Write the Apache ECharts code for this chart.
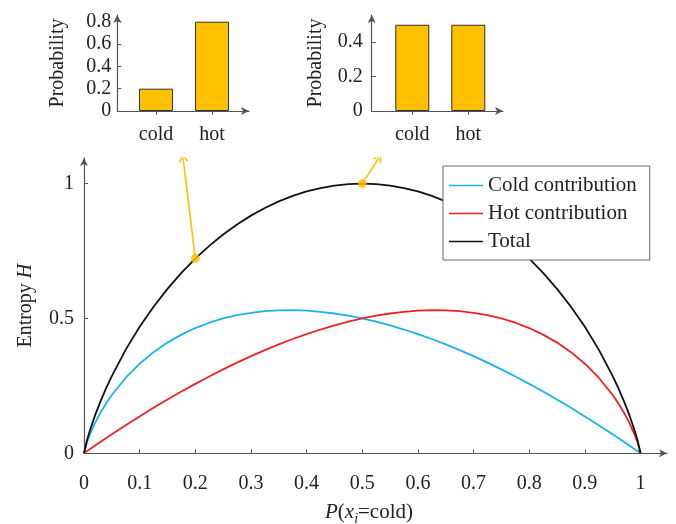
<!DOCTYPE html>
<html>
<head>
<meta charset="utf-8">
<script src="https://cdn.jsdelivr.net/npm/echarts@6/dist/echarts.min.js"></script>
<style>html,body{margin:0;padding:0;background:#fff}#c{width:676px;height:524px}</style>
</head>
<body>
<div id="c"></div>
<script>
// ---- data ----
var pValues = [0, 0.005, 0.01, 0.02, 0.03, 0.04, 0.05, 0.075, 0.1, 0.125, 0.15, 0.175, 0.2, 0.225, 0.25, 0.275, 0.3, 0.325, 0.35, 0.375, 0.4, 0.425, 0.45, 0.475, 0.5, 0.525, 0.55, 0.575, 0.6, 0.625, 0.65, 0.675, 0.7, 0.725, 0.75, 0.775, 0.8, 0.825, 0.85, 0.875, 0.9, 0.925, 0.95, 0.96, 0.97, 0.98, 0.99, 0.995, 1];
var coldContribution = [0, 0.0382, 0.0664, 0.1129, 0.1518, 0.1858, 0.2161, 0.2803, 0.3322, 0.375, 0.4105, 0.4401, 0.4644, 0.4842, 0.5, 0.5122, 0.5211, 0.5270, 0.5301, 0.5306, 0.5288, 0.5247, 0.5184, 0.5101, 0.5, 0.4881, 0.4744, 0.4590, 0.4422, 0.4238, 0.4040, 0.3827, 0.3602, 0.3364, 0.3113, 0.2850, 0.2575, 0.2290, 0.1993, 0.1686, 0.1368, 0.1041, 0.0703, 0.0565, 0.0426, 0.0286, 0.0144, 0.0072, 0];
var hotContribution = [0, 0.0072, 0.0144, 0.0286, 0.0426, 0.0565, 0.0703, 0.1041, 0.1368, 0.1686, 0.1993, 0.2290, 0.2575, 0.2850, 0.3113, 0.3364, 0.3602, 0.3827, 0.4040, 0.4238, 0.4422, 0.4590, 0.4744, 0.4881, 0.5, 0.5101, 0.5184, 0.5247, 0.5288, 0.5306, 0.5301, 0.5270, 0.5211, 0.5122, 0.5, 0.4842, 0.4644, 0.4401, 0.4105, 0.375, 0.3322, 0.2803, 0.2161, 0.1858, 0.1518, 0.1129, 0.0664, 0.0382, 0];
var totalEntropy = [0, 0.0454, 0.0808, 0.1415, 0.1944, 0.2423, 0.2864, 0.3844, 0.4690, 0.5436, 0.6098, 0.6691, 0.7219, 0.7692, 0.8113, 0.8486, 0.8813, 0.9097, 0.9341, 0.9544, 0.9710, 0.9837, 0.9928, 0.9982, 1, 0.9982, 0.9928, 0.9837, 0.9710, 0.9544, 0.9341, 0.9097, 0.8813, 0.8486, 0.8113, 0.7692, 0.7219, 0.6691, 0.6098, 0.5436, 0.4690, 0.3844, 0.2864, 0.2423, 0.1944, 0.1415, 0.0808, 0.0454, 0];
var seriesNames = ['Cold contribution', 'Hot contribution', 'Total'];
var xTicks = [0, 0.1, 0.2, 0.3, 0.4, 0.5, 0.6, 0.7, 0.8, 0.9, 1];
var yTicks = [0, 0.5, 1];
var markedP = [0.2, 0.5];
var markedH = [0.7219, 1];
var arrowTipX = [0.178, 0.53];
var arrowTipY = [1.095, 1.095];
var categories = ['cold', 'hot'];
var probsLeft = [0.2, 0.8];
var probsRight = [0.5, 0.5];
var leftTicks = [0, 0.2, 0.4, 0.6, 0.8];
var rightTicks = [0, 0.2, 0.4];

// ---- styling ----
var FONT = '"Liberation Serif", "DejaVu Serif", serif';
var AX = '#555';
var TXT = '#222';
var GOLD = '#FFC000';
var COLORS = ['#1AB2EE', '#EE2224', '#111'];

function mkLine(vals) { return pValues.map(function (p, i) { return [p, vals[i]]; }); }
function bars(vals) { return categories.map(function (c, i) { return [i + 1, vals[i]]; }); }
var arrowHead = 'path://M0,0 L6,7 L4.8,8.2 L0,2.4 L-4.8,8.2 L-6,7 Z';
var legendLine = 'path://M0,0 L100,0 L100,5 L0,5 Z';

function insetX(idx, min, max) {
  return {
    type: 'value', gridIndex: idx, min: min, max: max,
    splitLine: { show: false },
    axisLine: { lineStyle: { color: AX, width: 1.2 }, symbol: ['none', 'arrow'], symbolSize: [6, 8] },
    axisTick: { show: true, inside: false, length: 4, lineStyle: { color: AX }, customValues: [1, 2] },
    axisLabel: { color: TXT, fontFamily: FONT, fontSize: 20, margin: 14, customValues: [1, 2],
      formatter: function (v) { return categories[Math.round(v) - 1]; } }
  };
}
function insetY(idx, max, ticks, margin, gap) {
  return {
    type: 'value', gridIndex: idx, min: 0, max: max,
    splitLine: { show: false },
    name: 'Probability', nameLocation: 'middle', nameGap: gap, nameRotate: 90,
    nameTextStyle: { color: TXT, fontFamily: FONT, fontSize: 20 },
    axisLine: { show: true, lineStyle: { color: AX, width: 1.2 }, symbol: ['none', 'arrow'], symbolSize: [6, 8] },
    axisTick: { show: true, inside: true, length: 4, lineStyle: { color: AX }, customValues: ticks },
    axisLabel: { color: TXT, fontFamily: FONT, fontSize: 20, margin: margin, customValues: ticks }
  };
}

var chart = echarts.init(document.getElementById('c'), null, { renderer: 'canvas' });
var option = {
  animation: false,
  backgroundColor: '#fff',
  grid: [
    { left: 84, right: 9, top: 158, bottom: 70.7 },
    { left: 117.3, width: 131.7, top: 15, bottom: 413 },
    { left: 371.7, width: 131.3, top: 15, bottom: 413 }
  ],
  xAxis: [
    {
      type: 'value', gridIndex: 0, min: 0, max: 1.0476,
      splitLine: { show: false },
      axisLine: { lineStyle: { color: AX, width: 1.2 }, symbol: ['none', 'arrow'], symbolSize: [6, 8] },
      axisTick: { show: true, inside: true, length: 4, lineStyle: { color: AX }, customValues: xTicks },
      axisLabel: { color: TXT, fontFamily: FONT, fontSize: 20, margin: 20, customValues: xTicks }
    },
    insetX(1, 0.309, 2.66),
    insetX(2, 0.275, 2.62)
  ],
  yAxis: [
    {
      type: 'value', gridIndex: 0, min: 0, max: 1.095,
      splitLine: { show: false },
      name: 'Entropy {i|H}', nameLocation: 'middle', nameGap: 48, nameRotate: 90,
      nameTextStyle: { color: TXT, fontFamily: FONT, fontSize: 20,
        rich: { i: { fontStyle: 'italic', fontFamily: FONT, fontSize: 20, color: TXT } } },
      axisLine: { show: true, lineStyle: { color: AX, width: 1.2 }, symbol: ['none', 'arrow'], symbolSize: [6, 8] },
      axisTick: { show: true, inside: true, length: 4, lineStyle: { color: AX }, customValues: yTicks },
      axisLabel: { color: TXT, fontFamily: FONT, fontSize: 20, margin: 10, customValues: yTicks }
    },
    insetY(1, 0.86, leftTicks, 6, 50),
    insetY(2, 0.5565, rightTicks, 9, 46)
  ],
  legend: {
    data: seriesNames.map(function (n) { return { name: n, icon: legendLine }; }),
    orient: 'vertical', left: 443, top: 166,
    itemWidth: 34, itemHeight: 2, itemGap: 7,
    padding: [9, 13, 8, 6],
    backgroundColor: '#fff', borderColor: '#666', borderWidth: 1, borderRadius: 0,
    textStyle: { color: TXT, fontFamily: FONT, fontSize: 21, lineHeight: 20, padding: [0, 0, 0, 0] },
    selectedMode: false
  },
  graphic: [{
    type: 'text', x: 369, y: 512, z: 10,
    style: {
      text: '{i|P}{n|(}{i|x}{s|i}{n|=cold)}',
      align: 'center', verticalAlign: 'middle',
      fill: TXT, font: '20px ' + FONT,
      rich: {
        i: { fontStyle: 'italic', fontFamily: FONT, fontSize: 21, lineHeight: 28, verticalAlign: 'middle', fill: TXT },
        n: { fontFamily: FONT, fontSize: 21, lineHeight: 28, verticalAlign: 'middle', fill: TXT },
        s: { fontStyle: 'italic', fontFamily: FONT, fontSize: 14, lineHeight: 26, verticalAlign: 'bottom', fill: TXT }
      }
    }
  }],
  series: [
    { name: seriesNames[0], type: 'line', xAxisIndex: 0, yAxisIndex: 0, data: mkLine(coldContribution),
      symbol: 'none', lineStyle: { color: COLORS[0], width: 1.8 }, itemStyle: { color: COLORS[0] } },
    { name: seriesNames[1], type: 'line', xAxisIndex: 0, yAxisIndex: 0, data: mkLine(hotContribution),
      symbol: 'none', lineStyle: { color: COLORS[1], width: 1.8 }, itemStyle: { color: COLORS[1] } },
    { name: seriesNames[2], type: 'line', xAxisIndex: 0, yAxisIndex: 0, data: mkLine(totalEntropy),
      symbol: 'none', lineStyle: { color: COLORS[2], width: 1.8 }, itemStyle: { color: COLORS[2] } },
    { type: 'lines', coordinateSystem: 'cartesian2d', xAxisIndex: 0, yAxisIndex: 0, z: 5,
      symbol: ['none', arrowHead], symbolSize: [10, 9],
      lineStyle: { color: GOLD, width: 1.6, opacity: 1 },
      data: markedP.map(function (p, i) { return { coords: [[p, markedH[i]], [arrowTipX[i], arrowTipY[i]]] }; }) },
    { type: 'scatter', xAxisIndex: 0, yAxisIndex: 0, z: 6, symbolSize: 9,
      itemStyle: { color: GOLD }, data: markedP.map(function (p, i) { return [p, markedH[i]]; }) },
    { type: 'bar', xAxisIndex: 1, yAxisIndex: 1, barWidth: 34, data: bars(probsLeft),
      itemStyle: { color: GOLD, borderColor: '#333', borderWidth: 1 } },
    { type: 'bar', xAxisIndex: 2, yAxisIndex: 2, barWidth: 34, data: bars(probsRight),
      itemStyle: { color: GOLD, borderColor: '#333', borderWidth: 1 } }
  ]
};
chart.setOption(option);
</script>
</body>
</html>
